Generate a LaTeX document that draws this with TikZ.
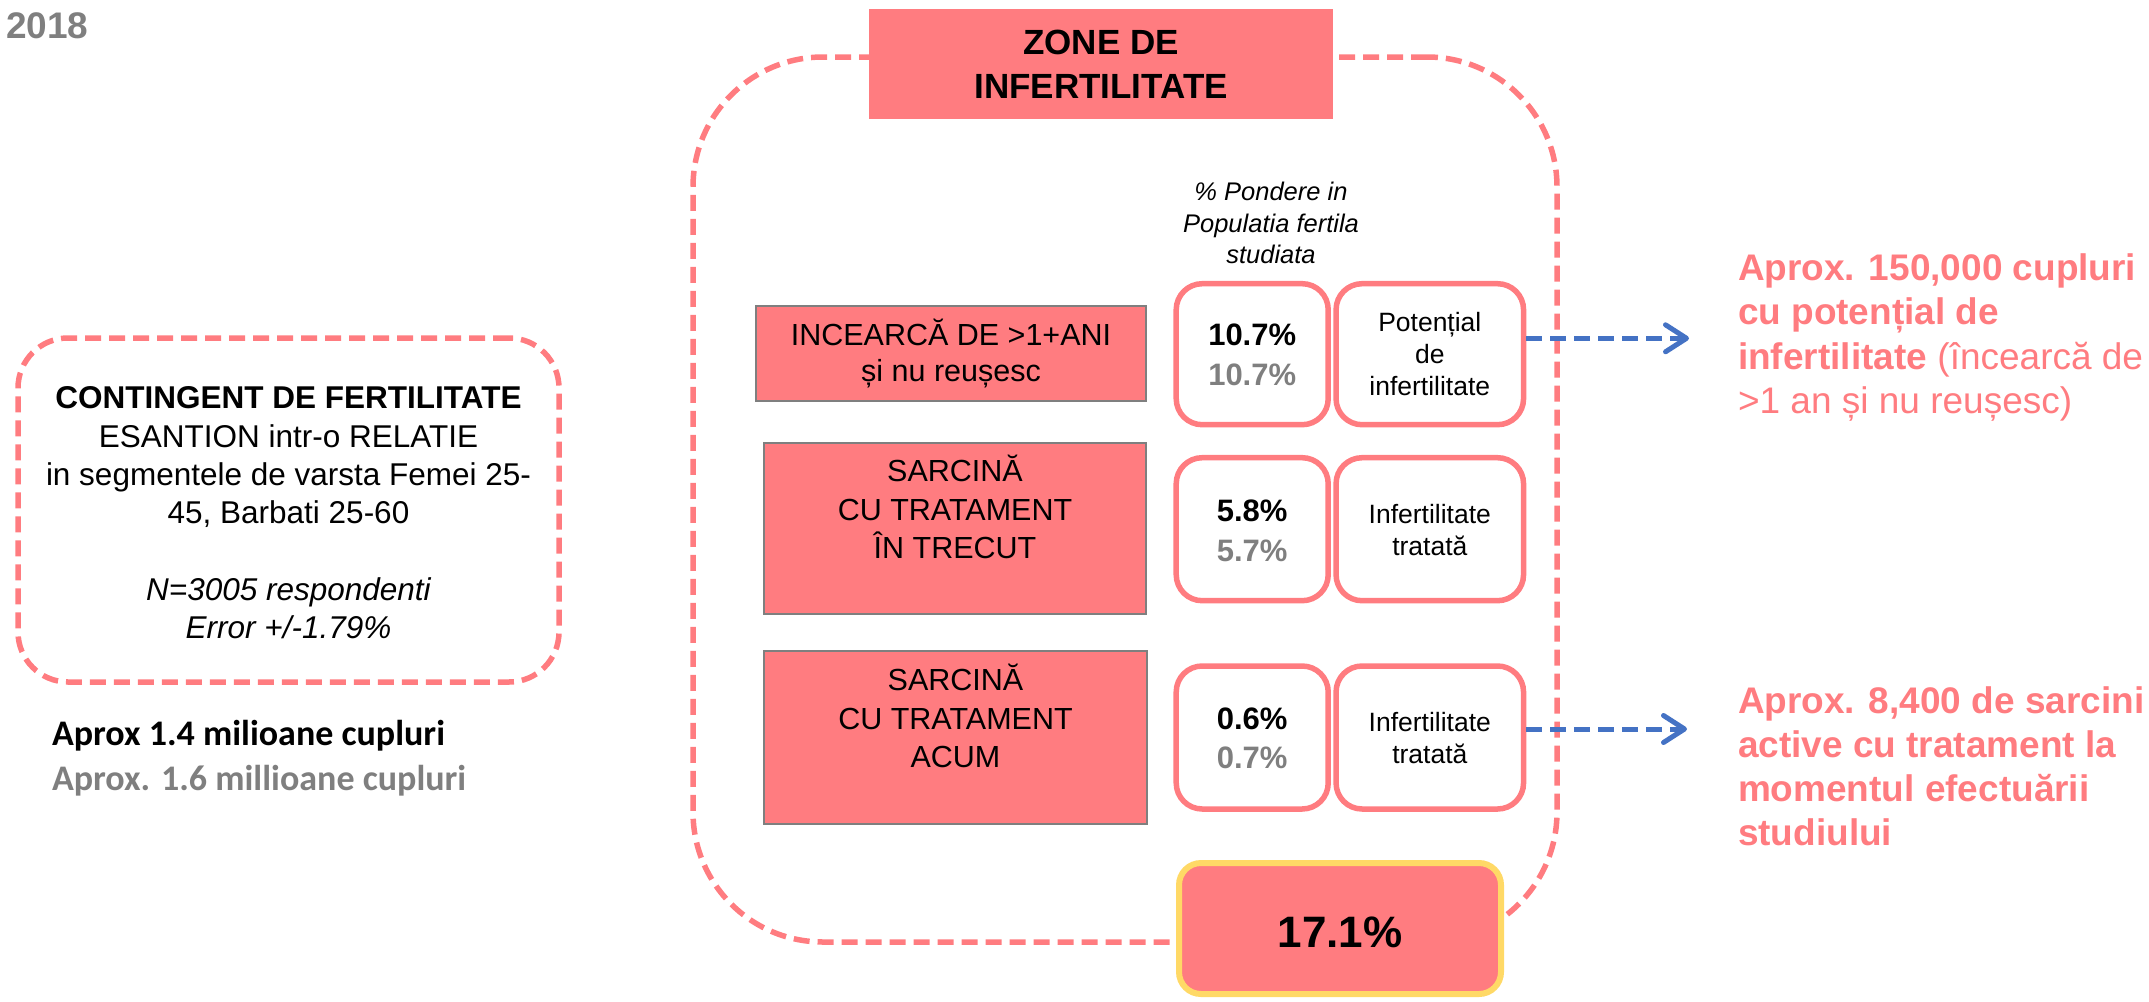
\documentclass[tikz,border=0pt]{standalone}
\usepackage{fontspec}
\setmainfont{Liberation Sans}
\newfontfamily\calibri{Carlito}
\usetikzlibrary{arrows.meta}
\definecolor{pk}{HTML}{FF7C80}
\definecolor{gr}{HTML}{7F7F7F}
\definecolor{bl}{HTML}{4472C4}
\definecolor{yl}{HTML}{FFD966}
\newcommand{\setfs}[1]{\fontsize{#1pt}{#1pt}\selectfont}
\begin{document}
\begin{tikzpicture}[x=1pt,y=1pt,
  pinkdash/.style={draw=pk, line width=5.5pt, dash pattern=on 16pt off 8pt},
  redbox/.style={fill=pk, draw=gr, line width=2pt, inner sep=0pt},
  pctbox/.style={draw=pk, fill=white, line width=5.5pt, rounded corners=26pt, inner sep=0pt, minimum height=141pt},
  txt/.style={anchor=base, inner sep=0pt, outer sep=0pt},
  txtw/.style={anchor=base west, inner sep=0pt, outer sep=0pt},
  lefttxt/.style={txt, font=\setfs{31.5}},
  rowtxt/.style={txt, font=\setfs{30.5}},
  pcttxt/.style={txt, font=\setfs{31}\bfseries},
  labtxt/.style={txt, font=\setfs{26.5}},
  righttxt/.style={txtw, text=pk, font=\setfs{37}},
  blarrow/.style={draw=bl, line width=5pt, dash pattern=on 16pt off 8pt, -{Straight Barb[length=21pt,width=27pt,round]}}
]
\useasboundingbox (0,0) rectangle (2149,-1001);

% year
\node[txtw, text=gr, font=\setfs{37}\bfseries] (year) at (6,-38.3) {2018};

% left box
\node[pinkdash, rounded corners=50pt, minimum width=541pt, minimum height=344pt, inner sep=0pt] (leftbox) at (288.5,-510) {};
\node[lefttxt, font=\setfs{31.5}\bfseries] (cf1) at (288.5,-408) {CONTINGENT DE FERTILITATE};
\node[lefttxt] (cf2) at (288.5,-447) {ESANTION intr-o RELATIE};
\node[lefttxt] (cf3) at (288.5,-485) {in segmentele de varsta Femei 25-};
\node[lefttxt] (cf4) at (288.5,-523) {45, Barbati 25-60};
\node[lefttxt, font=\setfs{31.5}\itshape] (cf5) at (288.5,-600) {N=3005 respondenti};
\node[lefttxt, font=\setfs{31.5}\itshape] (cf6) at (288.5,-638) {Error +/-1.79\%};
\node[txtw, font=\calibri\setfs{36}\bfseries] (ap1) at (52,-745) {Aprox 1.4 milioane cupluri};
\node[txtw, text=gr, font=\calibri\setfs{36}\bfseries] (ap2) at (52,-790) {Aprox. 1.6 millioane cupluri};

% zone container
\node[pinkdash, rounded corners=130pt, minimum width=864pt, minimum height=885pt, inner sep=0pt] (zone) at (1125,-499.5) {};
\node[fill=pk, minimum width=464pt, minimum height=110pt, inner sep=0pt, align=center,
      font=\setfs{35}\bfseries, execute at begin node={\setlength{\baselineskip}{44pt}}] (title) at (1101,-64) {ZONE DE\\INFERTILITATE};

% heading
\node[txt, font=\setfs{25.5}\itshape] (h1) at (1271,-200) {\% Pondere in};
\node[txt, font=\setfs{25.5}\itshape] (h2) at (1271,-232) {Populatia fertila};
\node[txt, font=\setfs{25.5}\itshape] (h3) at (1271,-263) {studiata};

% row 1
\node[redbox, minimum width=390pt, minimum height=95pt] (r1l) at (951,-353) {};
\node[rowtxt] (r1la) at (951,-345) {INCEARCĂ DE >1+ANI};
\node[rowtxt] (r1lb) at (951,-381.7) {și nu reușesc};
\node[pctbox, minimum width=152pt] (r1p) at (1252.2,-354.2) {};
\node[pctbox, minimum width=187.5pt] (r1t) at (1429.8,-354.2) {};
\node[pcttxt] (r1pa) at (1252.2,-345) {10.7\%};
\node[pcttxt, text=gr] (r1pb) at (1252.2,-385) {10.7\%};
\node[labtxt] (r1ta) at (1429.8,-331.7) {Potențial};
\node[labtxt] (r1tb) at (1429.8,-363) {de};
\node[labtxt] (r1tc) at (1429.8,-395) {infertilitate};

% row 2
\node[redbox, minimum width=382pt, minimum height=171pt] (r2l) at (955,-528.4) {};
\node[rowtxt] (r2la) at (955,-481) {SARCINĂ};
\node[rowtxt] (r2lb) at (955,-520) {CU TRATAMENT};
\node[rowtxt] (r2lc) at (955,-558) {ÎN TRECUT};
\node[pctbox, minimum width=152pt, minimum height=143pt] (r2p) at (1252.2,-529.2) {};
\node[pctbox, minimum width=187.5pt, minimum height=143pt] (r2t) at (1429.8,-529.2) {};
\node[pcttxt] (r2pa) at (1252.2,-521.7) {5.8\%};
\node[pcttxt, text=gr] (r2pb) at (1252.2,-561.7) {5.7\%};
\node[labtxt] (r2ta) at (1429.8,-523) {Infertilitate};
\node[labtxt] (r2tb) at (1429.8,-555) {tratată};

% row 3
\node[redbox, minimum width=383pt, minimum height=173pt] (r3l) at (955.5,-737.5) {};
\node[rowtxt] (r3la) at (955.5,-690) {SARCINĂ};
\node[rowtxt] (r3lb) at (955.5,-729.3) {CU TRATAMENT};
\node[rowtxt] (r3lc) at (955.5,-767.7) {ACUM};
\node[pctbox, minimum width=152pt, minimum height=143pt] (r3p) at (1252.2,-737.5) {};
\node[pctbox, minimum width=187.5pt, minimum height=143pt] (r3t) at (1429.8,-737.5) {};
\node[pcttxt] (r3pa) at (1252.2,-729.3) {0.6\%};
\node[pcttxt, text=gr] (r3pb) at (1252.2,-768.3) {0.7\%};
\node[labtxt] (r3ta) at (1429.8,-731.7) {Infertilitate};
\node[labtxt] (r3tb) at (1429.8,-763.3) {tratată};

% total
\node[fill=pk, draw=yl, line width=6pt, rounded corners=22pt, minimum width=322pt, minimum height=131pt, inner sep=0pt] (tot) at (1340,-928.5) {};
\node[txt, font=\setfs{44}\bfseries] (totx) at (1340,-947) {17.1\%};

% arrows
\coordinate (a1end) at (1689,-338.3);
\coordinate (a2end) at (1687,-729);
\draw[blarrow] (r1t.east |- a1end) -- (a1end);
\draw[blarrow] (r3t.east |- a2end) -- (a2end);

% right texts
\node[righttxt, font=\setfs{37}\bfseries] (t1a) at (1738,-280) {Aprox. 150,000 cupluri};
\node[righttxt, font=\setfs{37}\bfseries] (t1b) at (1738,-324.5) {cu potențial de};
\node[righttxt] (t1c) at (1738,-369) {\textbf{infertilitate} (încearcă de};
\node[righttxt] (t1d) at (1738,-413.5) {>1 an și nu reușesc)};
\node[righttxt, font=\setfs{37}\bfseries] (t2a) at (1738,-713) {Aprox. 8,400 de sarcini};
\node[righttxt, font=\setfs{37}\bfseries] (t2b) at (1738,-757) {active cu tratament la};
\node[righttxt, font=\setfs{37}\bfseries] (t2c) at (1738,-801) {momentul efectuării};
\node[righttxt, font=\setfs{37}\bfseries] (t2d) at (1738,-845) {studiului};
\end{tikzpicture}
\end{document}
